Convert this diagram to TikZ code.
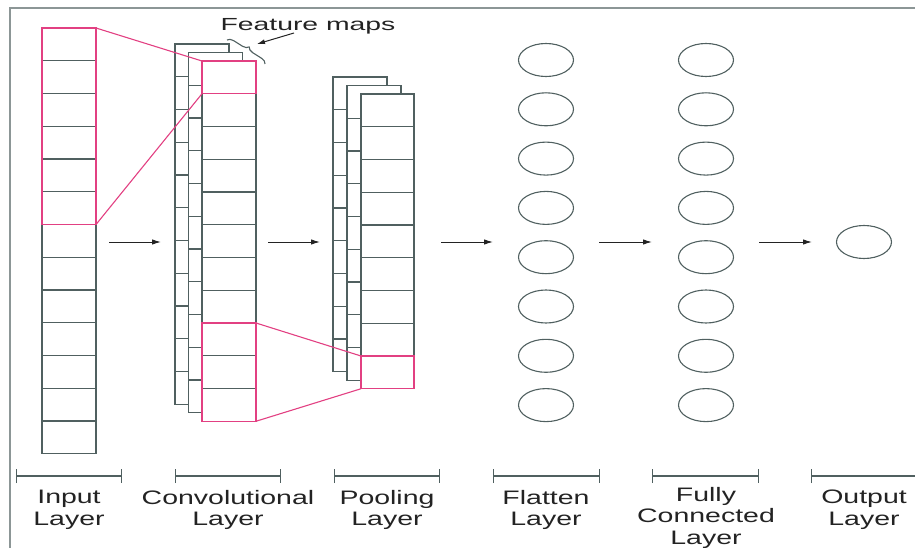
\documentclass[tikz,border=0pt]{standalone}
\usepackage{fontspec}
\setmainfont{Liberation Sans}
\newfontfamily\lblfont[FakeStretch=1.46]{Liberation Sans}
\newfontfamily\fmfont[FakeStretch=1.62]{Liberation Sans}
\usetikzlibrary{decorations.pathreplacing,arrows.meta,shapes.geometric}
\definecolor{gridc}{RGB}{80,96,96}
\definecolor{pnk}{RGB}{226,64,130}
\definecolor{frm}{RGB}{140,150,150}
\definecolor{txt}{RGB}{35,35,35}
\tikzset{
  colbox/.style={draw=gridc, fill=white, line width=1.2pt, inner sep=0pt, outer sep=0pt, anchor=north west},
  cellline/.style={draw=gridc, line width=1.1pt},
  pinkbox/.style={draw=pnk, line width=1.2pt, inner sep=0pt, outer sep=0pt, anchor=north west},
  pinkline/.style={draw=pnk, line width=1.1pt},
  neuron/.style={ellipse, draw=gridc, line width=1.1pt, minimum width=55pt, minimum height=33pt, inner sep=0pt},
  flow/.style={draw=txt, line width=1pt, -{Latex[length=9pt,width=5.5pt]}},
  spanbar/.style={draw=gridc, line width=1.3pt},
  lbl/.style={text=txt, font=\lblfont\fontsize{19.5}{21.5}\selectfont, align=center, anchor=north, inner sep=0pt},
}
\begin{document}
\begin{tikzpicture}[x=1pt,y=-1pt]
\useasboundingbox (0,0) rectangle (915,548);
% frame
\draw[frm, line width=1.8pt] (10,548) -- (10,8) -- (915,8);

\def\h{32.75}
% ---------- Input layer ----------
\node[colbox, minimum width=54pt, minimum height=425.75pt] (inp) at (42,28) {};
\foreach \i in {1,...,12} \draw[cellline] ([yshift=-\i*\h pt]inp.north west) -- ([yshift=-\i*\h pt]inp.north east);
\node[pinkbox, minimum width=54pt, minimum height=196.5pt] (inpk) at (42,28) {};

% ---------- Convolutional layer ----------
\node[colbox, minimum width=54pt, minimum height=360.25pt] (cb1) at (175,44) {};
\foreach \i in {1,...,10} \draw[cellline] ([yshift=-\i*\h pt]cb1.north west) -- ([yshift=-\i*\h pt]cb1.north east);
\node[colbox, minimum width=54pt, minimum height=360.25pt] (cb2) at (188.5,52.5) {};
\foreach \i in {1,...,10} \draw[cellline] ([yshift=-\i*\h pt]cb2.north west) -- ([yshift=-\i*\h pt]cb2.north east);
\node[colbox, minimum width=54pt, minimum height=360.25pt] (cf) at (202,61) {};
\foreach \i in {1,...,10} \draw[cellline] ([yshift=-\i*\h pt]cf.north west) -- ([yshift=-\i*\h pt]cf.north east);
\node[pinkbox, minimum width=54pt, minimum height=32.75pt] (cvpk1) at (202,61) {};
\node[pinkbox, minimum width=54pt, minimum height=98.25pt] (cvpk2) at (202,323) {};

% ---------- Pooling layer ----------
\node[colbox, minimum width=54pt, minimum height=294.75pt] (pb1) at (333,77) {};
\foreach \i in {1,...,8} \draw[cellline] ([yshift=-\i*\h pt]pb1.north west) -- ([yshift=-\i*\h pt]pb1.north east);
\node[colbox, minimum width=54pt, minimum height=294.75pt] (pb2) at (347,85.5) {};
\foreach \i in {1,...,8} \draw[cellline] ([yshift=-\i*\h pt]pb2.north west) -- ([yshift=-\i*\h pt]pb2.north east);
\node[colbox, minimum width=53pt, minimum height=294.75pt] (pf) at (361,94) {};
\foreach \i in {1,...,8} \draw[cellline] ([yshift=-\i*\h pt]pf.north west) -- ([yshift=-\i*\h pt]pf.north east);
\node[pinkbox, minimum width=53pt, minimum height=32.75pt] (plpk) at (361,356) {};

% pink connectors
\draw[pinkline] (inpk.north east) -- (cvpk1.north west);
\draw[pinkline] (inpk.south east) -- (cvpk1.south west);
\draw[pinkline] (cvpk2.north east) -- (plpk.north west);
\draw[pinkline] (cvpk2.south east) -- (plpk.south west);

% ---------- Feature maps annotation ----------
\node[text=txt, font=\fmfont\fontsize{17.5}{20}\selectfont, anchor=base, inner sep=0pt] (fm) at (308,31) {Feature maps};
\coordinate (brA) at (227,40);
\coordinate (brB) at (265,64);
\draw[gridc, line width=1.1pt, decorate, decoration={brace, amplitude=6pt, aspect=0.5}] (brA) -- (brB);
\coordinate (fmtail) at (294,33);
\coordinate (fmhead) at (257,44);
\draw[draw=txt, line width=1pt, -{Latex[length=8pt,width=5pt]}] (fmtail) -- (fmhead);

% ---------- Flatten & fully connected ----------
\foreach \k [evaluate=\k as \yy using 60+(\k-1)*49.3] in {1,...,8} {
  \node[neuron] (f\k) at (546,\yy) {};
  \node[neuron] (d\k) at (706,\yy) {};
}
\node[neuron] (out) at (864,242) {};

% ---------- flow arrows ----------
\coordinate (a1s) at (109,242); \coordinate (a1e) at (161,242);
\coordinate (a2s) at (268,242); \coordinate (a2e) at (320,242);
\coordinate (a3s) at (441,242); \coordinate (a3e) at (493,242);
\coordinate (a4s) at (599,242); \coordinate (a4e) at (652,242);
\coordinate (a5s) at (759,242); \coordinate (a5e) at (812,242);
\foreach \n in {1,...,5} \draw[flow] (a\n s) -- (a\n e);

% ---------- span bars ----------
\coordinate (b1l) at (16,476);  \coordinate (b1r) at (122,476);
\coordinate (b2l) at (175,476); \coordinate (b2r) at (281,476);
\coordinate (b3l) at (334,476); \coordinate (b3r) at (440,476);
\coordinate (b4l) at (493,476); \coordinate (b4r) at (600,476);
\coordinate (b5l) at (652,476); \coordinate (b5r) at (759,476);
\foreach \n in {1,...,5} \draw[spanbar, {Bar[width=14pt]}-{Bar[width=14pt]}] (b\n l) -- (b\n r);
\coordinate (b6l) at (811,476); \coordinate (b6r) at (915,476);
\draw[spanbar, {Bar[width=14pt]}-] (b6l) -- (b6r);

% ---------- labels ----------
\node[lbl] (l1) at (69,490) {Input\\Layer};
\node[lbl] (l2) at (228,490) {Convolutional\\Layer};
\node[lbl] (l3) at (387,490) {Pooling\\Layer};
\node[lbl] (l4) at (546,490) {Flatten\\Layer};
\node[lbl] (l5) at (706,487) {Fully\\Connected\\Layer};
\node[lbl] (l6) at (864,490) {Output\\Layer};
\end{tikzpicture}
\end{document}
